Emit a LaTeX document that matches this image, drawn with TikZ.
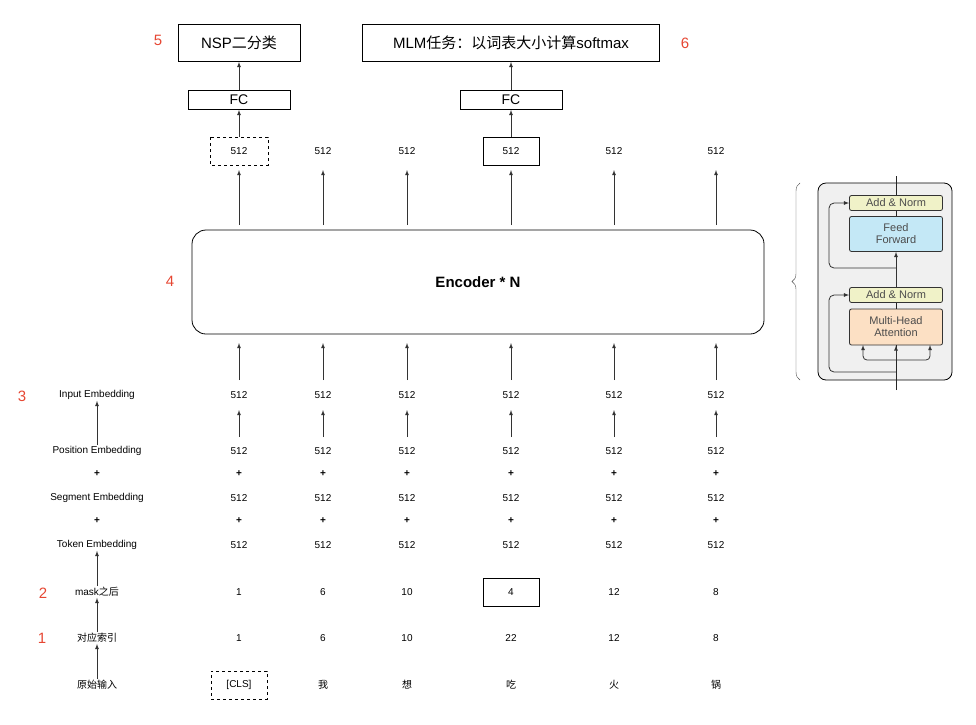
\documentclass[tikz,border=0pt]{standalone}
\usepackage{fontspec}
\setmainfont{Liberation Sans}
\newfontfamily\cjk{Noto Sans CJK SC}
\usetikzlibrary{decorations.pathreplacing}
\definecolor{numred}{RGB}{230,70,50}
\definecolor{normyellow}{RGB}{240,242,200}
\definecolor{ffblue}{RGB}{196,232,246}
\definecolor{attorange}{RGB}{252,224,196}
\tikzset{
  txt/.style={font=\fontsize{10}{11}\selectfont, inner sep=1pt},
  num/.style={text=numred, font=\fontsize{15}{15}\selectfont},
  box/.style={draw, thick, minimum height=28pt, minimum width=56pt, font=\fontsize{10}{11}\selectfont},
  dbox/.style={box, dashed},
  up/.style={-latex, thick, black!80},
  blk/.style={draw=black!80, thick, rounded corners=2pt, font=\fontsize{11}{12}\selectfont, text=black!70, align=center, minimum width=93pt, inner sep=1pt},
}
\begin{document}
\begin{tikzpicture}[x=1pt,y=-1pt]
    \useasboundingbox (0,0) rectangle (976,724);

    % left labels
    \node[txt] (Linp) at (97,395) {Input Embedding};
    \node[txt] (Lpos) at (97,451) {Position Embedding};
    \node[txt] at (97,474) {\textbf{+}};
    \node[txt] (Lseg) at (97,498) {Segment Embedding};
    \node[txt] at (97,521) {\textbf{+}};
    \node[txt] (Ltok) at (97,545) {Token Embedding};
    \node[txt] (Lmask) at (97,592) {mask{\cjk 之后}};
    \node[txt] (Lidx) at (97,638) {\cjk 对应索引};
    \node[txt] (Lraw) at (97,685) {\cjk 原始输入};
    \draw[up] (Lpos) -- (Linp);
    \draw[up] (Lmask) -- (Ltok);
    \draw[up] (Lidx) -- (Lmask);
    \draw[up] (Lraw) -- (Lidx);

    % red numbers
    \node[num] at (42,638) {1};
    \node[num] at (43,593) {2};
    \node[num] at (22,396) {3};
    \node[num] at (170,281) {4};
    \node[num] at (158,40) {5};
    \node[num] at (685,43) {6};

    % token columns
    \foreach \x/\i [count=\c] in {239/1, 323/6, 407/10, 511/22, 614/12, 716/8} {
      \node[txt] (inp\c) at (\x,395) {512};
      \node[txt] (pos\c) at (\x,451) {512};
      \node[txt] at (\x,474) {\textbf{+}};
      \node[txt] at (\x,498) {512};
      \node[txt] at (\x,521) {\textbf{+}};
      \node[txt] at (\x,545) {512};
      \node[txt] at (\x,638) {\i};
      \node[txt] (out\c) at (\x,151) {512};
      \coordinate (eb\c) at (\x,343);
      \coordinate (ib\c) at (\x,380);
      \coordinate (et\c) at (\x,225);
      \coordinate (ot\c) at (\x,170);
      \coordinate (pt\c) at (\x,437);
      \coordinate (it\c) at (\x,410);
      \draw[up] (pt\c) -- (it\c);
      \draw[up] (ib\c) -- (eb\c);
      \draw[up] (et\c) -- (ot\c);
    }
    \node[txt] at (239,592) {1};
    \node[txt] at (323,592) {6};
    \node[txt] at (407,592) {10};
    \node[box] at (511,592) {4};
    \node[txt] at (614,592) {12};
    \node[txt] at (716,592) {8};
    \node[dbox, thin] at (239,685) {[CLS]};
    \node[txt] at (323,685) {\cjk 我};
    \node[txt] at (407,685) {\cjk 想};
    \node[txt] at (511,685) {\cjk 吃};
    \node[txt] at (614,685) {\cjk 火};
    \node[txt] at (716,685) {\cjk 锅};
    \draw[dashed] (210,137) rectangle (268,165);
    \draw[thick] (483,137) rectangle (539,165);
    \coordinate (o1) at (239,137);
    \coordinate (o4) at (511,137);

    % encoder
    \node[draw, thick, rounded corners=14pt, minimum width=572pt, minimum height=104pt, font=\bfseries\fontsize{15}{15}\selectfont] (enc) at (478,282) {Encoder * N};

    % heads
    \node[draw, thick, minimum width=102pt, minimum height=19pt, font=\fontsize{14}{14}\selectfont, inner sep=0pt] (fc1) at (239,100) {FC};
    \node[draw, thick, minimum width=102pt, minimum height=19pt, font=\fontsize{14}{14}\selectfont, inner sep=0pt] (fc2) at (511,100) {FC};
    \node[draw, thick, minimum width=122pt, minimum height=37pt, font=\fontsize{15}{15}\selectfont] (nsp) at (239,43) {NSP{\cjk 二分类}};
    \node[draw, thick, minimum width=297pt, minimum height=37pt, font=\fontsize{15}{15}\selectfont] (mlm) at (511,43) {MLM{\cjk 任务：以词表大小计算}softmax};
    \draw[up] (o1) -- (fc1);
    \draw[up] (o4) -- (fc2);
    \draw[up] (fc1) -- (nsp);
    \draw[up] (fc2) -- (mlm);

    % transformer encoder block
    \draw[decorate, decoration={brace, amplitude=8pt}, black!70] (800,380) -- (800,183);
    \draw[thick, fill=black!6, rounded corners=8pt] (818,183) rectangle (952,380);
    \node[blk, fill=normyellow, minimum height=15pt, inner sep=0pt] (an2) at (896,203) {Add \& Norm};
    \node[blk, fill=ffblue, minimum height=35pt] (ff) at (896,234) {Feed\\Forward};
    \node[blk, fill=normyellow, minimum height=15pt, inner sep=0pt] (an1) at (896,295) {Add \& Norm};
    \node[blk, fill=attorange, minimum height=36pt] (mha) at (896,327) {Multi-Head\\Attention};
    \coordinate (bin) at (896,390);
    \coordinate (bout) at (896,176);
    \coordinate (r1) at (896,372);
    \coordinate (r2) at (896,268);
    \coordinate (sp) at (896,360);
    \coordinate (ql) at (863,345);
    \coordinate (qr) at (930,345);
    \draw[thick, black!85] (bin) -- (mha.south);
    \draw[thick, black!85] (mha) -- (an1);
    \draw[up] (an1) -- (ff);
    \draw[thick, black!85] (ff) -- (an2);
    \draw[thick, black!85] (an2) -- (bout);
    \draw[up, rounded corners=5pt] (r1) -- (829,372) -- (829,295) -- (an1.west);
    \draw[up, rounded corners=5pt] (r2) -- (829,268) -- (829,203) -- (an2.west);
    \draw[up] (sp) -- (mha.south);
    \draw[up, rounded corners=4pt] (sp) -- (863,360) -- (ql);
    \draw[up, rounded corners=4pt] (sp) -- (930,360) -- (qr);
\end{tikzpicture}
\end{document}
